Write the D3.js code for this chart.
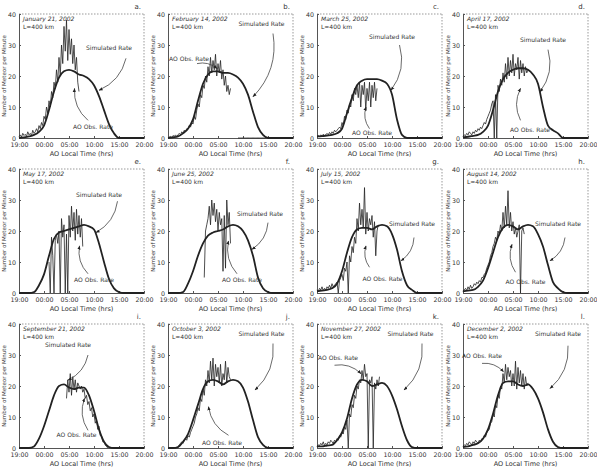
<!DOCTYPE html>
<html>
<head>
<meta charset="utf-8">
<script src="https://d3js.org/d3.v7.min.js"></script>
<style>
  body { margin: 0; background: #fff; }
  text { font-family: "DejaVu Sans", sans-serif; fill: #333; }
</style>
</head>
<body>
<svg id="svg" width="597" height="476"></svg>
<script>
// ---- data ----
const dates = ["January 21, 2002", "February 14, 2002", "March 25, 2002", "April 17, 2002",
  "May 17, 2002", "June 25, 2002", "July 15, 2002", "August 14, 2002",
  "September 21, 2002", "October 3, 2002", "November 27, 2002", "December 2, 2002"];
const letters = ["a.", "b.", "c.", "d.", "e.", "f.", "g.", "h.", "i.", "j.", "k.", "l."];
const xTicks = [0, 5, 10, 15, 20, 25];
const xTickLabels = ["19:00", "00:00", "05:00", "10:00", "15:00", "20:00"];
const yTicks = [0, 10, 20, 30, 40];

// simulated rate, hourly from 19:00 (hour 0) to 20:00 (hour 25)
const simRates = [
  [0, 0.2, 0.5, 1, 2, 4, 9, 15, 19.5, 21.5, 22, 21.5, 20.5, 20, 19, 17, 13.5, 9, 4.5, 1.5, 0, 0, 0, 0, 0, 0],
  [0, 0.2, 0.5, 1.5, 3, 6, 12, 17.5, 20.5, 21.5, 21.5, 21, 21, 20.5, 19.5, 17.5, 14, 8.5, 3.5, 1, 0, 0, 0, 0, 0, 0],
  [0.5, 0.6, 0.8, 1, 1.5, 3, 8, 13, 17, 18.5, 19, 19, 19, 18.5, 17.5, 14, 6, 1, 0, 0, 0, 0, 0, 0, 0, 0],
  [0.2, 0.4, 0.7, 1, 2, 4, 9, 15, 19, 21, 22, 22.5, 22.5, 22, 20.5, 17.5, 10, 4, 2.5, 1.5, 0, 0, 0, 0, 0, 0],
  [0, 0, 0, 0.3, 2.5, 6, 12, 17.5, 19.5, 20, 20.5, 21, 21.5, 22, 21.5, 20.5, 16, 10, 4.5, 1.5, 0.3, 0, 0, 0, 0, 0],
  [0, 0, 0, 0.3, 3, 7, 12, 16, 18.5, 19.5, 20, 20.5, 21.5, 22, 21.5, 20, 17, 12, 5, 1.5, 0.3, 0, 0, 0, 0, 0],
  [0.5, 0.8, 1, 1.5, 3, 7, 13, 18, 20.5, 21, 21, 20.5, 21.5, 22, 21.5, 19, 14, 7, 2.5, 1, 0, 0, 0, 0, 0, 0],
  [0.5, 0.8, 1, 2, 4, 8, 13, 18, 21, 22, 21.5, 20.5, 21.5, 22, 21.5, 19, 15, 9, 3.5, 1.5, 0.3, 0, 0, 0, 0, 0],
  [0, 0, 0, 0.5, 3, 7, 12, 17, 20, 20.5, 19.5, 19, 19.5, 19.5, 17, 12, 6, 2, 0.3, 0, 0, 0, 0, 0, 0, 0],
  [0, 0, 0.3, 2, 4.5, 9, 14, 19, 21.5, 22, 21.5, 20.5, 21.5, 22, 21.5, 19.5, 15, 9, 3.5, 1, 0, 0, 0, 0, 0, 0],
  [0.5, 0.5, 0.8, 1, 2.5, 5, 9.5, 16, 20.5, 22, 21.5, 20, 20.5, 21, 20, 17, 12.5, 7, 2.5, 0.3, 0, 0, 0, 0, 0, 0],
  [0.3, 0.5, 1, 1.5, 3, 6, 11, 17, 21, 21.5, 21.5, 20.5, 20, 20.5, 19, 16, 11.5, 6, 2, 0.3, 0, 0, 0, 0, 0, 0]
];

// observed rate, every quarter hour from obsStart (null = no data)
const obsStart = [0, 0, 0, 0, 6, 7.25, 0, 0, 9.5, 2, 0, 0];
const obsRates = [
  [0.5, 1, 0.3, 1.5, 0.8, 1.2, 0.5, 2, 1, 1.5, 0.8, 2.5, 1.5, 2, 3, 2,
   4, 3, 5, 4, 7, 6, 10, 8, 12, 10, 15, 13, 18, 16, 22, 18,
   26, 20, 30, 24, 36, 28, 38, 25, 35, 27, 32, 24, 30, 22, 26, 18, 15],
  [0, 0.3, 0.5, 0.2, 0.8, 0.5, 1, 0.5, 1, 1.5, 1, 2, 1.5, 2.5, 2, 3,
   3, 4, 3.5, 5, 4.5, 7, 6, 9, 11, 10, 14, 13, 17, 16, 20, 18,
   23, 20, 26, 21, 25, 22, 27, 20, 24, 21, 25, 19, 22, 17, 20, 15,
   17, 14, 16, null, null, null, null, null,
   0, 0, 0, 0, 0, 0, 0, 0, 0, 0, 0, 0, 0, 0, 0, 0, 0, 0, 0, 0, 0, 0, 0],
  [0.5, 0.8, 0.5, 1, 0.7, 1.2, 0.8, 1, 1.5, 1, 1.8, 1.2, 2, 1.5, 2.5, 2,
   2.5, 3, 3.5, 3, 5, 4, 7, 6, 9, 8, 11, 10, 14, 12, 16, 14,
   17, 13, 18, 10, 17, 14, 18, 9, 16, 12, 18, 10, 17, 13, 18, 12, 16],
  [0.5, 1, 0.8, 1.5, 1, 2, 1.5, 1, 2, 1.5, 2.5, 2, 3, 2.5, 3.5, 3,
   4, 5, 4.5, 6, 7, 8, 9, 11, 12, 0, 14, 0, 17, 15, 19, 17,
   21, 18, 24, 19, 26, 20, 25, 21, 27, 20, 24, 22, 26, 19, 25, 21, 24, 20, 23, 21, 22],
  [10, 0, 18, 12, 0, 17, 19, 16, 20, 0, 24, 18, 22, 0, 19, 0,
   25, 18, 28, 20, 26, 17, 27, 19, 25, 18, 24, 15],
  [5, 20, 22, 24, 28, 22, 30, 25, 29, 23, 27, 20, 26, 22, 24, 7,
   25, 8, 30, 22, 26, 16],
  [1, 0.5, 1.5, 1, 2, 0.8, 1.5, 1, 2, 1.5, 2.5, 1.5, 3, 2, 2.5, 3,
   3.5, 0, 4, 5, 6, 4, 8, 7, 10, 0, 12, 10, 15, 13, 18, 16,
   24, 20, 29, 22, 27, 21, 34, 19, 26, 20, 24, 22, 25, 18, 23, 12, 20, 22],
  [0.5, 1, 1.5, 0.8, 2, 1.2, 2.5, 1.5, 2, 3, 2.5, 3.5, 3, 4, 3.5, 5,
   5, 6, 6.5, 8, 9, 10, 12, 13, 15, 16, 18, 17, 20, 19, 22, 20,
   26, 21, 28, 22, 33, 21, 26, 20, 23, 19, 21, 18, 20, 22, 0, 20, 21, 19],
  [16, 22, 18, 24, 17, 23, 19, 22, 18, 21, 20, 19, 20, 18, 19, 16,
   17, 14, 15, 12, 13, 10, 11, 8, 9, 6, 7, 4, 4, 2, 2, 1, 0.5, 0],
  [0.5, 1, 1.5, 2, 1.5, 2.5, 3, 2.5, 4, 3.5, 5, 6, 7, 8, 10, 11,
   13, 12, 16, 15, 19, 17, 22, 20, 25, 21, 28, 22, 29, 20, 27, 23,
   26, 21, 27, 20, 24, 22, 28, 21, 26, 23, 22],
  [0.5, 1, 0.8, 1.5, 1, 2, 0.8, 1.5, 1, 2, 1.5, 2.5, 2, 1.5, 2.5, 2,
   3, 2.5, 4, 3.5, 5, 4.5, 7, 6, 9, 0, 11, 10, 14, 13, 17, 16,
   20, 19, 22, 21, 25, 22, 27, 23, 24, 0, 22, 21, 23, 0, 21, 19, 22, 20, 23],
  [0.5, 1, 0.8, 1.5, 1, 2, 1.5, 1, 2, 1.5, 2.5, 2, 1.5, 2.5, 2, 3,
   3, 4, 3.5, 5, 5.5, 6, 8, 8.5, 11, 10, 14, 13, 17, 16, 20, 19,
   24, 21, 27, 22, 26, 23, 25, 20, 24, 20, 28, 19, 26, 21, 25, 20, 24, 19, 23, 20, 21]
];

// annotations: [text hour, text value, arrow from hour, from value, arrow to hour, to value]
const simNotes = [
  [18, 28.4, 21.4, 25.7, 16, 15.4], [18.7, 36, 21, 33.7, 17, 13.3],
  [15, 32, 16.5, 30, 14.8, 15.4], [16, 31, 17, 28.5, 15.4, 14.9],
  [16, 30.9, 19.7, 29.6, 15.4, 19.5], [18.4, 24.8, 20, 22.7, 16.8, 14.1],
  [19, 21.6, 19.4, 17.9, 16.8, 10.4], [19, 21.6, 20.4, 17.9, 17.4, 10.4],
  [9.8, 32.6, 13.8, 30, 9.8, 21.9], [18.7, 36, 21, 33.7, 17.4, 18.7],
  [18.7, 36, 21, 33.7, 17.4, 18.7], [19, 36, 21, 33, 17.4, 19.2]
];
const obsNotes = [
  [14.8, 3, 13.8, 5.7, 11.1, 16], [4.2, 25, 5.8, 24, 9.8, 22.4],
  [11, 0.9, 10.5, 3, 9.8, 10], [13.4, 2, 11.5, 5.7, 11.5, 16],
  [15, 3.5, 13.8, 6.2, 12.1, 15.2], [14.8, 3.5, 13.8, 6.2, 12.1, 16.8],
  [13.1, 4, 10.5, 8.3, 9.8, 15.2], [12.5, 3, 10.5, 6.7, 9.8, 15.7],
  [11.5, 3.6, 13.8, 5.7, 13.1, 16], [10.8, 0.9, 12.1, 4.1, 8.1, 13.3],
  [4.2, 28.4, 3.5, 26.7, 8.8, 24], [3.8, 29, 3.8, 27.3, 8.1, 24.6]
];

// ---- layout ----
const colLeft = [19, 168, 317, 463];
const rowTop = [14, 169, 324];
const pw = 125, ph = 124;
const svg = d3.select("#svg");
const ink = "#222";

const defs = svg.append("defs");
defs.append("marker").attr("id", "ah").attr("viewBox", "0 0 10 10")
  .attr("refX", 9).attr("refY", 5).attr("markerWidth", 5).attr("markerHeight", 5)
  .attr("orient", "auto")
  .append("path").attr("d", "M0,1 L10,5 L0,9 Z").attr("fill", ink);

const x = d3.scaleLinear().domain([0, 25]).range([0, pw]);
const y = d3.scaleLinear().domain([0, 40]).range([ph, 0]);

const simLine = d3.line().x((d, i) => x(i)).y(d => y(d)).curve(d3.curveMonotoneX);

function arrowPath(n) {
  const x1 = x(n[2]), y1 = y(n[3]), x2 = x(n[4]), y2 = y(n[5]);
  const mx = (x1 + x2) / 2, my = (y1 + y2) / 2;
  const dx = x2 - x1, dy = y2 - y1;
  const cx = mx + dy * 0.25, cy = my - dx * 0.25;
  return "M" + x1 + "," + y1 + " Q" + cx + "," + cy + " " + x2 + "," + y2;
}

dates.forEach((date, k) => {
  const g = svg.append("g")
    .attr("transform", "translate(" + colLeft[k % 4] + "," + rowTop[Math.floor(k / 4)] + ")");

  // frame
  g.append("line").attr("x1", 0).attr("x2", pw).attr("y1", 0).attr("y2", 0)
    .attr("stroke", "#999").attr("stroke-dasharray", "1.5,1.5");
  g.append("line").attr("x1", pw).attr("x2", pw).attr("y1", 0).attr("y2", ph)
    .attr("stroke", "#999").attr("stroke-dasharray", "1.5,1.5");

  const xa = g.append("g").attr("transform", "translate(0," + ph + ")")
    .call(d3.axisBottom(x).tickValues(xTicks).tickSize(-2).tickPadding(5)
      .tickFormat((d, i) => xTickLabels[i]));
  const ya = g.append("g")
    .call(d3.axisLeft(y).tickValues(yTicks).tickSize(-2).tickPadding(3));
  [xa, ya].forEach(a => {
    a.select(".domain").attr("stroke", "#555");
    a.selectAll(".tick line").attr("stroke", "#555");
    a.selectAll("text").attr("font-size", 6.3).attr("fill", "#333")
      .attr("font-family", "DejaVu Sans, sans-serif");
  });

  g.append("text").attr("x", pw / 2).attr("y", ph + 18).attr("text-anchor", "middle")
    .attr("font-size", 6.5).text("AO Local Time (hrs)");
  g.append("text").attr("transform", "translate(-13," + (ph / 2) + ") rotate(-90)")
    .attr("text-anchor", "middle").attr("font-size", 5.5).text("Number of Meteor per Minute");
  g.append("text").attr("x", pw - 3).attr("y", -5).attr("text-anchor", "end")
    .attr("font-size", 7).text(letters[k]);
  g.append("text").attr("x", 4).attr("y", 7).attr("font-size", 6).attr("font-style", "italic").text(date);
  g.append("text").attr("x", 4).attr("y", 15).attr("font-size", 6).text("L=400 km");

  // observed rate
  const obsLine = d3.line()
    .defined(d => d !== null)
    .x((d, i) => x(obsStart[k] + i * 0.25)).y(d => y(d));
  g.append("path").attr("d", obsLine(obsRates[k]))
    .attr("fill", "none").attr("stroke", ink).attr("stroke-width", 0.8);

  // simulated rate
  g.append("path").attr("d", simLine(simRates[k]))
    .attr("fill", "none").attr("stroke", ink).attr("stroke-width", 1.8);

  // annotations
  [[simNotes[k], "Simulated Rate"], [obsNotes[k], "AO Obs. Rate"]].forEach(([n, label]) => {
    g.append("text").attr("x", x(n[0])).attr("y", y(n[1])).attr("text-anchor", "middle")
      .attr("font-size", 6).text(label);
    g.append("path").attr("d", arrowPath(n)).attr("fill", "none")
      .attr("stroke", "#444").attr("stroke-width", 0.8).attr("marker-end", "url(#ah)");
  });
});
</script>
</body>
</html>
